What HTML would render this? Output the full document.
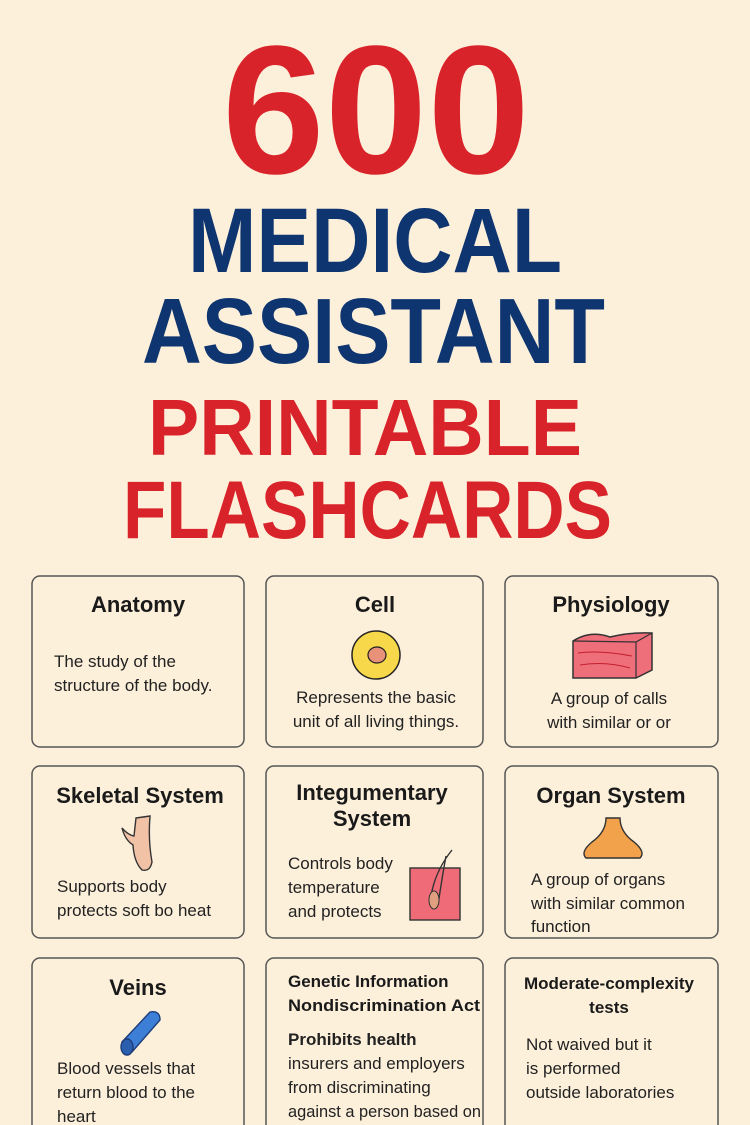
<!DOCTYPE html>
<html><head><meta charset="utf-8"><style>
html,body{margin:0;padding:0;background:#fdf0db;}
svg{display:block;}
text{font-family:"Liberation Sans",sans-serif;}
.t{font-weight:bold;font-size:22px;fill:#1a1a1a;}
.b{font-size:17px;fill:#222;}
</style></head><body>
<svg width="750" height="1125" viewBox="0 0 750 1125" xmlns="http://www.w3.org/2000/svg">
<rect width="750" height="1125" fill="#fdf0db"/>
<g font-weight="bold">
<text x="222" y="173" font-size="183" fill="#d9232a" textLength="308" lengthAdjust="spacingAndGlyphs">600</text>
<text x="188" y="272" font-size="92" fill="#0e3570" textLength="374" lengthAdjust="spacingAndGlyphs">MEDICAL</text>
<text x="142" y="363" font-size="93" fill="#0e3570" textLength="463" lengthAdjust="spacingAndGlyphs">ASSISTANT</text>
<text x="148" y="455" font-size="80" fill="#d9232a" textLength="434" lengthAdjust="spacingAndGlyphs">PRINTABLE</text>
<text x="123" y="538" font-size="82" fill="#d9232a" textLength="489" lengthAdjust="spacingAndGlyphs">FLASHCARDS</text>
</g>
<g fill="none" stroke="#555" stroke-width="1.5">
<rect x="32" y="576" width="212" height="171" rx="8"/>
<rect x="266" y="576" width="217" height="171" rx="8"/>
<rect x="505" y="576" width="213" height="171" rx="8"/>
<rect x="32" y="766" width="212" height="172" rx="8"/>
<rect x="266" y="766" width="217" height="172" rx="8"/>
<rect x="505" y="766" width="213" height="172" rx="8"/>
<rect x="32" y="958" width="212" height="190" rx="8"/>
<rect x="266" y="958" width="217" height="190" rx="8"/>
<rect x="505" y="958" width="213" height="190" rx="8"/>
</g>
<!-- Row 1 -->
<text class="t" x="138" y="612" text-anchor="middle">Anatomy</text>
<text class="b" x="54" y="667">The study of the</text>
<text class="b" x="54" y="691">structure of the body.</text>
<text class="t" x="375" y="612" text-anchor="middle">Cell</text>
<ellipse cx="376" cy="655" rx="24" ry="24" fill="#f7d84a" stroke="#222" stroke-width="1.5"/>
<ellipse cx="377" cy="655" rx="9" ry="8" fill="#e8927a" stroke="#222" stroke-width="1.2"/>
<text class="b" x="376" y="703" text-anchor="middle">Represents the basic</text>
<text class="b" x="376" y="727" text-anchor="middle">unit of all living things.</text>
<text class="t" x="611" y="612" text-anchor="middle">Physiology</text>
<path d="M573 641 Q590 630 610 637 Q630 632 652 633 L652 670 L636 678 L573 678 Z" fill="#ee6e7a" stroke="#333" stroke-width="1.5"/>
<path d="M636 642 L636 678 M573 641 L636 642 L652 633" fill="none" stroke="#333" stroke-width="1.2"/>
<path d="M578 653 Q600 650 632 656 M580 665 Q605 661 630 668" stroke="#c42030" fill="none"/>
<text class="b" x="609" y="704" text-anchor="middle">A group of calls</text>
<text class="b" x="609" y="728" text-anchor="middle">with similar or or</text>
<!-- Row 2 -->
<text class="t" x="140" y="803" text-anchor="middle">Skeletal System</text>
<path d="M136 818 L150 816 Q148 840 152 862 Q150 872 142 870 Q134 862 133 845 Q125 840 122 828 Q128 835 134 836 Z" fill="#f2c2a6" stroke="#333" stroke-width="1.4"/>
<text class="b" x="57" y="892">Supports body</text>
<text class="b" x="57" y="916">protects soft bo heat</text>
<text class="t" x="372" y="800" text-anchor="middle">Integumentary</text>
<text class="t" x="372" y="826" text-anchor="middle">System</text>
<rect x="410" y="868" width="50" height="52" fill="#ef6b78" stroke="#333" stroke-width="1.4"/>
<path d="M430 905 Q432 875 452 850 M438 905 Q442 878 446 856" stroke="#333" fill="none" stroke-width="1.4"/>
<ellipse cx="434" cy="900" rx="5" ry="9" fill="#e0a080" stroke="#333"/>
<text class="b" x="288" y="869">Controls body</text>
<text class="b" x="288" y="893">temperature</text>
<text class="b" x="288" y="917">and protects</text>
<text class="t" x="611" y="803" text-anchor="middle">Organ System</text>
<path d="M606 818 L620 818 Q620 832 634 842 Q646 852 640 858 L586 858 Q580 852 592 842 Q606 832 606 818 Z" fill="#f2a24a" stroke="#333" stroke-width="1.4"/>
<text class="b" x="531" y="885">A group of organs</text>
<text class="b" x="531" y="909">with similar common</text>
<text class="b" x="531" y="932">function</text>
<!-- Row 3 -->
<text class="t" x="138" y="995" text-anchor="middle">Veins</text>
<path d="M122 1042 L150 1012 Q160 1010 160 1020 L132 1052 Z" fill="#3d7fd6" stroke="#1d3c78" stroke-width="1.4"/>
<ellipse cx="127" cy="1047" rx="6" ry="8" fill="#2a5fb0" stroke="#1d3c78" stroke-width="1.4"/>
<text class="b" x="57" y="1074">Blood vessels that</text>
<text class="b" x="57" y="1098">return blood to the</text>
<text class="b" x="57" y="1122">heart</text>
<text x="288" y="987" font-size="17" font-weight="bold" fill="#1a1a1a">Genetic Information</text>
<text x="288" y="1011" font-size="17" font-weight="bold" fill="#1a1a1a" textLength="192" lengthAdjust="spacingAndGlyphs">Nondiscrimination Act</text>
<text class="b" x="288" y="1045" font-weight="bold">Prohibits health</text>
<text class="b" x="288" y="1069" font-size="16">insurers and employers</text>
<text class="b" x="288" y="1093" font-size="16">from discriminating</text>
<text class="b" x="288" y="1117" font-size="16" textLength="193" lengthAdjust="spacingAndGlyphs">against a person based on</text>
<text x="609" y="989" font-size="17" font-weight="bold" fill="#1a1a1a" text-anchor="middle">Moderate-complexity</text>
<text x="609" y="1013" font-size="17" font-weight="bold" fill="#1a1a1a" text-anchor="middle">tests</text>
<text class="b" x="526" y="1050">Not waived but it</text>
<text class="b" x="526" y="1074">is performed</text>
<text class="b" x="526" y="1098">outside laboratories</text>
</svg>
</body></html>
